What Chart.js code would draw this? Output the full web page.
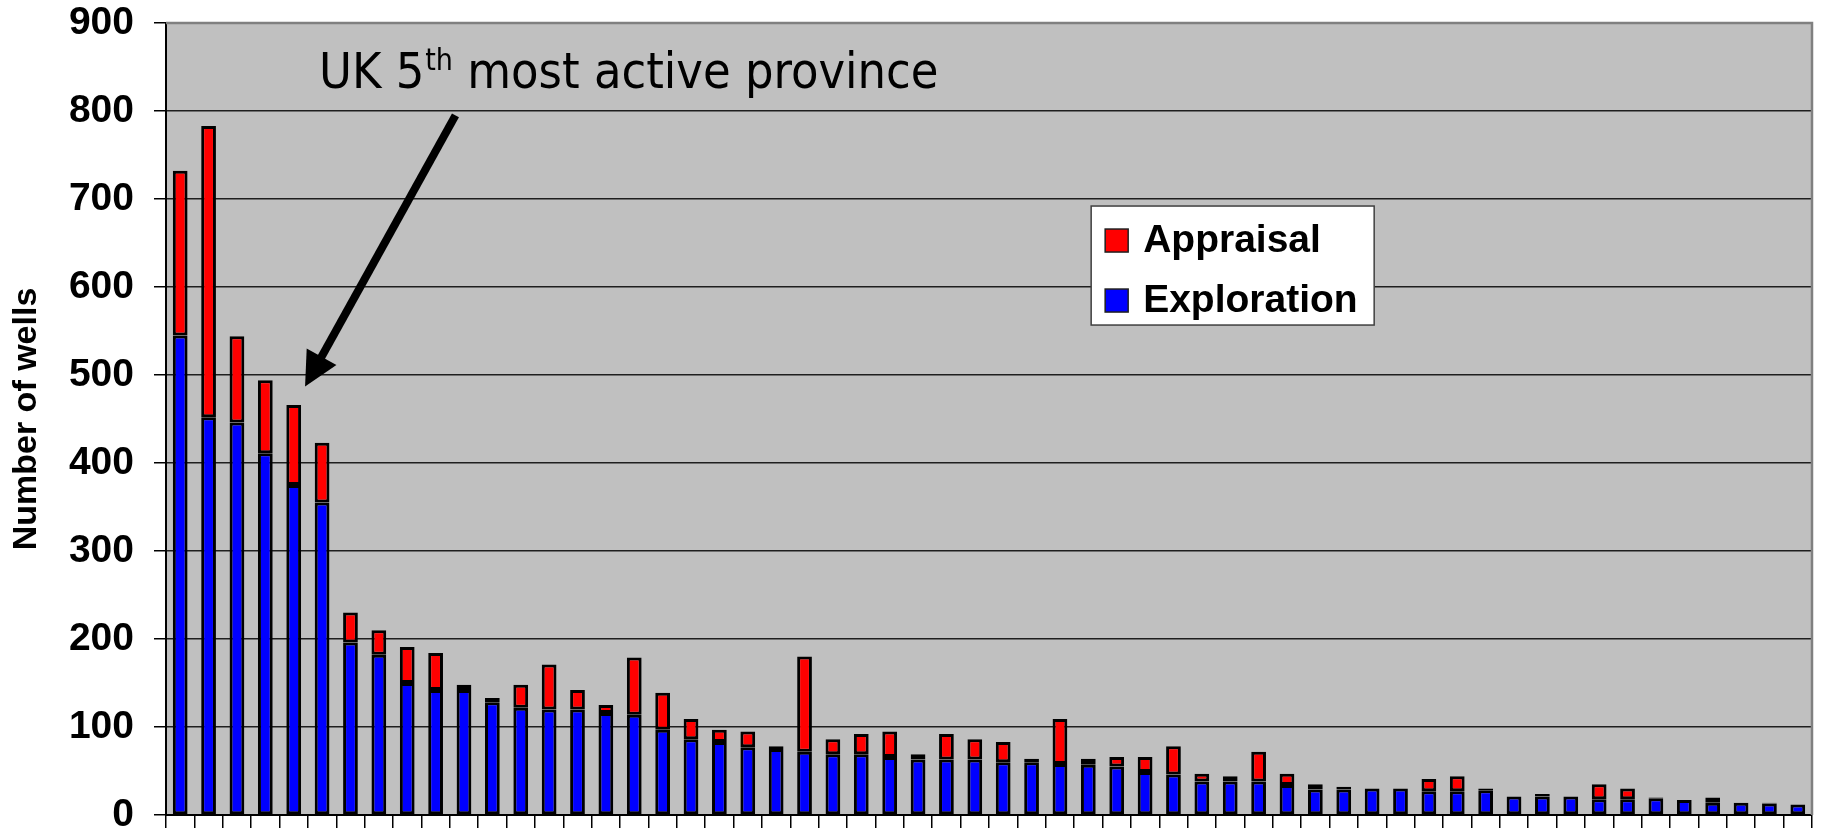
<!DOCTYPE html>
<html>
<head>
<meta charset="utf-8">
<title>Number of wells</title>
<script src="https://cdn.jsdelivr.net/npm/chart.js@4.4.1/dist/chart.umd.min.js"></script>
<style>
  html, body { margin: 0; padding: 0; background: #fff; }
  #wrap { width: 1822px; height: 833px; }
</style>
</head>
<body>
<div id="wrap"><canvas id="chart" width="1822" height="833"></canvas></div>
<script>
// wells per province, sorted as in the original slide (no province names shown)
const exploration = [545, 452, 446, 411, 375, 355, 196, 182, 150, 142, 142, 128, 122, 120, 120, 116, 114, 97, 86, 83,
	77, 75, 72, 69, 69, 66, 63, 63, 63, 60, 60, 58, 57, 55, 49, 46, 38, 38, 38, 34,
	29, 29, 30, 30, 27, 27, 28, 21, 21, 21, 18, 18, 19, 17, 14, 14, 13, 12];
const appraisal = [187, 331, 98, 83, 91, 68, 34, 28, 41, 42, 6, 5, 26, 51, 22, 9, 65, 42, 23, 14,
	18, 3, 108, 17, 23, 29, 6, 29, 23, 23, 4, 51, 7, 11, 17, 32, 9, 6, 34, 13,
	6, 3, 0, 0, 14, 17, 2, 0, 3, 0, 17, 12, 1, 0, 6, 0, 1, 0];
const provinces = exploration.map((v, i) => String(i + 1));
const yMax = 900;
const yStep = 100;

const noteText = ['UK 5', 'th', ' most active province'];
const UK_INDEX = 4; // 5th bar

Chart.defaults.font.family = '"Liberation Sans", Arial, sans-serif';
Chart.defaults.color = '#000';

// grey plot area + frame on top/right
const plotFrame = {
	id: 'plotFrame',
	beforeDraw(chart) {
		let { ctx, chartArea: a } = chart;
		ctx.save();
		ctx.fillStyle = '#c0c0c0';
		ctx.fillRect(a.left, a.top, a.width, a.height);
		ctx.restore();
	},
	afterDraw(chart) {
		let { ctx, chartArea: a } = chart;
		ctx.save();
		ctx.strokeStyle = '#808080';
		ctx.lineWidth = 2.5;
		ctx.beginPath();
		ctx.moveTo(a.left, a.top);
		ctx.lineTo(a.right, a.top);
		ctx.lineTo(a.right, a.bottom);
		ctx.stroke();
		ctx.restore();
	}
};

// "UK 5th most active province" + arrow, placed in data space
const note = {
	id: 'note',
	afterDatasetsDraw(chart) {
		let ctx = chart.ctx;
		let x = chart.scales.x, y = chart.scales.y;

		ctx.save();
		ctx.fillStyle = '#000';
		ctx.textBaseline = 'alphabetic';
		let tx = x.getPixelForValue(4.89);
		let ty = y.getPixelForValue(826);
		let big = '50px "DejaVu Sans Condensed", "DejaVu Sans", sans-serif';
		let small = '30px "DejaVu Sans Condensed", "DejaVu Sans", sans-serif';
		ctx.font = big;
		ctx.fillText(noteText[0], tx, ty);
		tx += ctx.measureText(noteText[0]).width + 1;
		ctx.font = small;
		ctx.fillText(noteText[1], tx, ty - 18);
		tx += ctx.measureText(noteText[1]).width;
		ctx.font = big;
		ctx.fillText(noteText[2], tx, ty);

		// arrow
		let x0 = x.getPixelForValue(9.7), y0 = y.getPixelForValue(795);
		let x1 = x.getPixelForValue(UK_INDEX + 0.4), y1 = y.getPixelForValue(487);
		let ang = Math.atan2(y1 - y0, x1 - x0);
		let headLen = 34, headW = 17;
		let bx = x1 - headLen * Math.cos(ang), by = y1 - headLen * Math.sin(ang);
		ctx.strokeStyle = '#000';
		ctx.lineWidth = 8;
		ctx.beginPath();
		ctx.moveTo(x0, y0);
		ctx.lineTo(bx + 2 * Math.cos(ang), by + 2 * Math.sin(ang));
		ctx.stroke();
		ctx.beginPath();
		ctx.moveTo(x1, y1);
		ctx.lineTo(bx + headW * Math.sin(ang), by - headW * Math.cos(ang));
		ctx.lineTo(bx - headW * Math.sin(ang), by + headW * Math.cos(ang));
		ctx.closePath();
		ctx.fill();
		ctx.restore();
	}
};

// boxed legend inside the plot, Appraisal listed first
const boxLegend = {
	id: 'boxLegend',
	afterDraw(chart) {
		let ctx = chart.ctx;
		let left = chart.scales.x.getPixelForValue(32.1);
		let top = chart.scales.y.getPixelForValue(692);
		let w = 283, h = 119;
		ctx.save();
		ctx.fillStyle = '#fff';
		ctx.fillRect(left, top, w, h);
		ctx.strokeStyle = '#404040';
		ctx.lineWidth = 1.5;
		ctx.strokeRect(left, top, w, h);

		let items = chart.data.datasets.slice().reverse();
		ctx.font = 'bold 39px "Liberation Sans", Arial, sans-serif';
		ctx.textBaseline = 'middle';
		items.forEach((ds, i) => {
			let cy = top + 34 + i * 60;
			ctx.fillStyle = ds.backgroundColor;
			ctx.fillRect(left + 14, cy - 11, 23, 23);
			ctx.strokeStyle = '#202020';
			ctx.lineWidth = 1.5;
			ctx.strokeRect(left + 14, cy - 11, 23, 23);
			ctx.fillStyle = '#000';
			ctx.fillText(ds.label, left + 52, cy + 1);
		});
		ctx.restore();
	}
};

new Chart(document.getElementById('chart'), {
	type: 'bar',
	data: {
		labels: provinces,
		datasets: [
			{
				label: 'Exploration',
				data: exploration,
				backgroundColor: '#0000ff',
				borderColor: '#000',
				borderWidth: 3,
				borderSkipped: false,
				barPercentage: 0.52,
				categoryPercentage: 1
			},
			{
				label: 'Appraisal',
				data: appraisal,
				backgroundColor: '#ff0000',
				borderColor: '#000',
				borderWidth: 3,
				borderSkipped: false,
				barPercentage: 0.52,
				categoryPercentage: 1
			}
		]
	},
	options: {
		responsive: false,
		animation: false,
		layout: { padding: { top: 23, right: 10, bottom: 0, left: 0 } },
		plugins: {
			legend: { display: false },
			tooltip: { enabled: false }
		},
		scales: {
			x: {
				stacked: true,
				ticks: { display: false },
				grid: { drawOnChartArea: false, offset: true, tickLength: 13, color: '#000', lineWidth: 1.5 },
				border: { display: true, color: '#000', width: 2 },
				afterFit(scale) {
					scale.height = 18;
					scale.paddingLeft = 0;
					scale.paddingRight = 0;
				}
			},
			y: {
				stacked: true,
				min: 0,
				max: yMax,
				ticks: { stepSize: yStep, padding: 20, font: { size: 39, weight: 'bold' } },
				grid: { color: '#1e1e1e', lineWidth: 1.5, tickLength: 12, tickColor: '#000' },
				border: { display: true, color: '#000', width: 2 },
				title: {
					display: true,
					text: 'Number of wells',
					font: { size: 34, weight: 'bold' },
					padding: { top: 6, bottom: 0 }
				},
				afterFit(scale) {
					scale.width = 166;
					scale.paddingTop = 0;
					scale.paddingBottom = 0;
				}
			}
		}
	},
	plugins: [plotFrame, note, boxLegend]
});
</script>
</body>
</html>
